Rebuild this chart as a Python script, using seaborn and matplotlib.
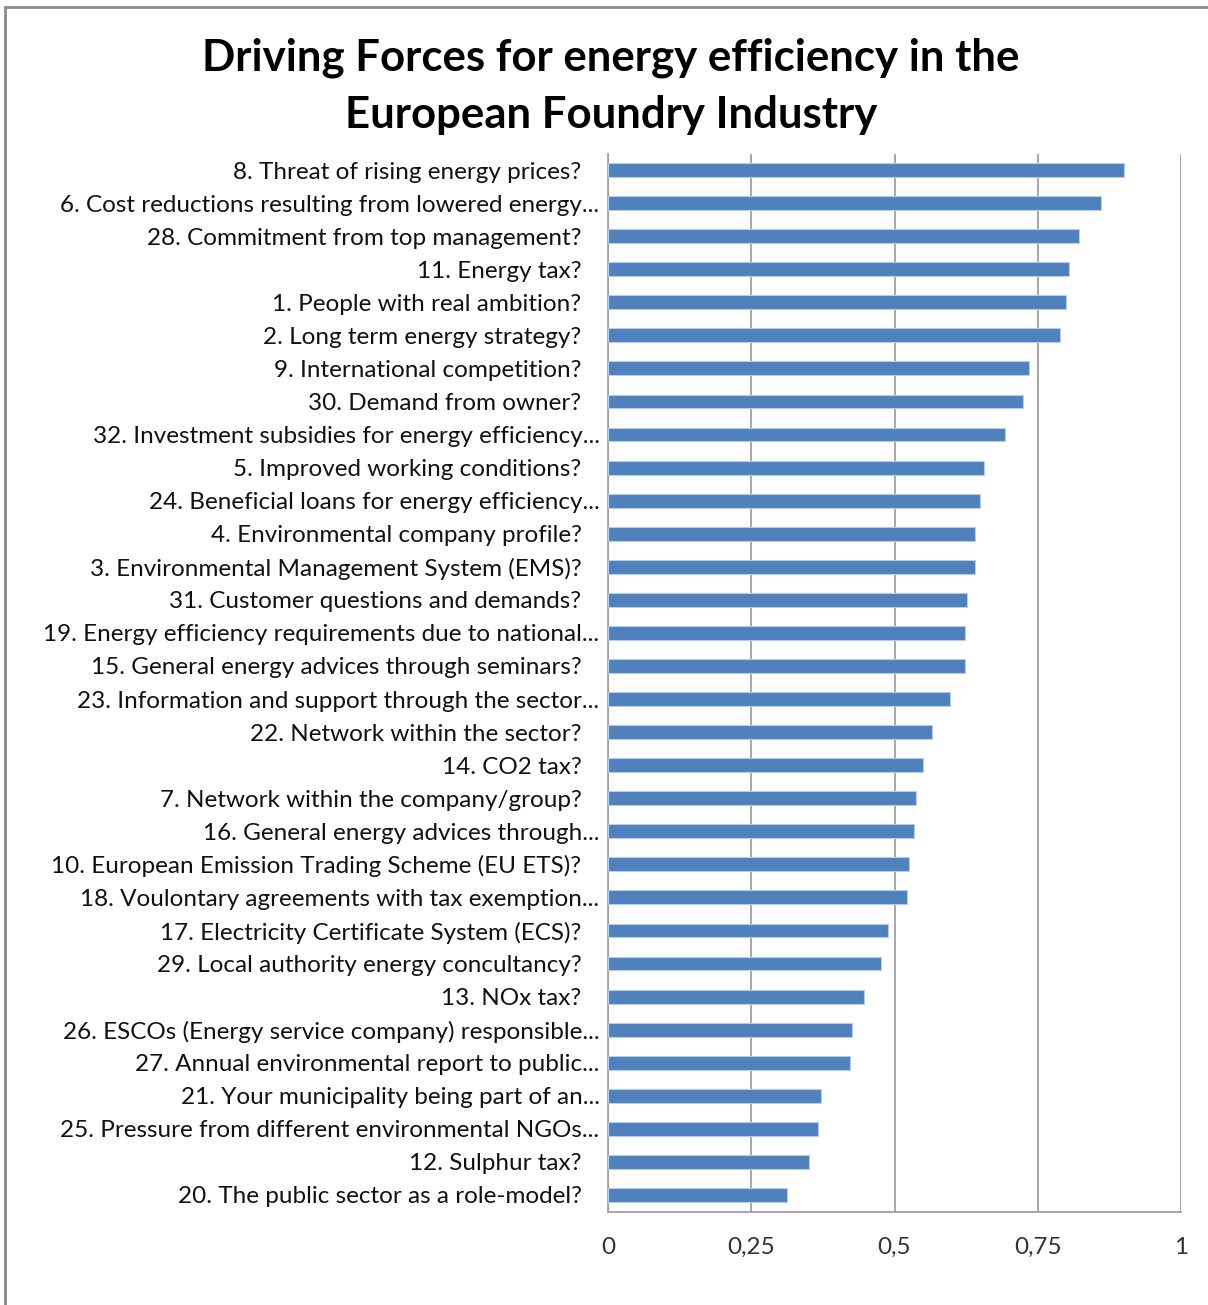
import matplotlib
matplotlib.use("Agg")
import matplotlib.pyplot as plt
import matplotlib.transforms as mtransforms
from matplotlib.patches import Rectangle
import seaborn as sns
import pandas as pd

# Survey items, ordered from strongest to weakest driving force
items = [
    "8. Threat of rising energy prices?",
    "6. Cost reductions resulting from lowered energy...",
    "28. Commitment from top management?",
    "11. Energy tax?",
    "1. People with real ambition?",
    "2. Long term energy strategy?",
    "9. International competition?",
    "30. Demand from owner?",
    "32. Investment subsidies for energy efficiency...",
    "5. Improved working conditions?",
    "24. Beneficial loans for energy efficiency...",
    "4. Environmental company profile?",
    "3. Environmental Management System (EMS)?",
    "31. Customer questions and demands?",
    "19. Energy efficiency requirements due to national...",
    "15. General energy advices through seminars?",
    "23. Information and support through the sector...",
    "22. Network within the sector?",
    "14. CO2 tax?",
    "7. Network within the company/group?",
    "16. General energy advices through...",
    "10. European Emission Trading Scheme (EU ETS)?",
    "18. Voulontary agreements with tax exemption...",
    "17. Electricity Certificate System (ECS)?",
    "29. Local authority energy concultancy?",
    "13. NOx tax?",
    "26. ESCOs (Energy service company) responsible...",
    "27. Annual environmental report to public...",
    "21. Your municipality being part of an...",
    "25. Pressure from different environmental NGOs...",
    "12. Sulphur tax?",
    "20. The public sector as a role-model?",
]

scores = [
    0.900, 0.861, 0.822, 0.804, 0.800, 0.789, 0.735, 0.724,
    0.692, 0.656, 0.650, 0.640, 0.640, 0.627, 0.623, 0.623,
    0.596, 0.565, 0.549, 0.538, 0.534, 0.526, 0.522, 0.488,
    0.477, 0.446, 0.426, 0.422, 0.372, 0.366, 0.350, 0.312,
]

x_ticks = [0, 0.25, 0.5, 0.75, 1]
x_tick_labels = ["0", "0,25", "0,5", "0,75", "1"]

title_lines = ["Driving Forces for energy efficiency in the",
               "European Foundry Industry"]

df = pd.DataFrame({"item": items, "score": scores})

sns.set_theme(style="white")
plt.rcParams["font.family"] = ["Lato", "DejaVu Sans"]

W, H = 1208, 1305
fig = plt.figure(figsize=(W / 100, H / 100), dpi=100)
fig.patch.set_facecolor("white")

# Outer chart frame (runs off the right and bottom edges)
fig.add_artist(Rectangle((5 / W, -0.05), 1.2, 1 - 7 / H + 0.05,
                         transform=fig.transFigure, fill=False,
                         edgecolor="#8a8a8a", linewidth=2.0))

ax = fig.add_axes([608 / W, 1 - 1211.5 / H, (1181 - 608) / W, (1211.5 - 153.5) / H])

sns.barplot(data=df, x="score", y="item", orient="h", ax=ax,
            color="#4F81BD", saturation=1, width=0.42,
            edgecolor="#B8CCE4", linewidth=0.8, zorder=3)

ax.set_xlim(0, 1)
ax.set_ylim(len(items) - 0.5, -0.5)
ax.set_xticks(x_ticks)
ax.set_xticklabels(x_tick_labels)
ax.xaxis.grid(True, color="#a0a0a0", linewidth=1.3, zorder=0)
ax.yaxis.grid(False)
ax.set_axisbelow(True)
ax.set_xlabel("")
ax.set_ylabel("")

for side in ["top", "right"]:
    ax.spines[side].set_visible(False)
for side in ["left", "bottom"]:
    ax.spines[side].set_color("#a0a0a0")
    ax.spines[side].set_linewidth(1.3)

ax.tick_params(axis="x", length=0, pad=18, labelsize=17.5, labelcolor="#333333")
ax.tick_params(axis="y", length=0, pad=19, labelsize=17.5, labelcolor="#111111")

# Truncated labels sit a little closer to the axis
shift = mtransforms.ScaledTranslation(18 / 100, 0, fig.dpi_scale_trans)
for lab in ax.get_yticklabels():
    if lab.get_text().endswith("..."):
        lab.set_transform(lab.get_transform() + shift)

for line, y_px in zip(title_lines, [58, 115]):
    fig.text(611 / W, 1 - y_px / H, line, ha="center", va="center",
             fontsize=31.5, fontweight="bold", color="black")

fig.savefig("out.png", dpi=100, facecolor="white")
